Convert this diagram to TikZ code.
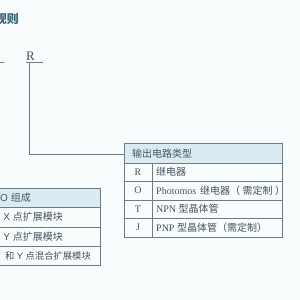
\documentclass[tikz,border=0pt]{standalone}
\usepackage{fontspec}
\setmainfont{Liberation Serif}
\newfontfamily\cjk{Noto Sans CJK SC}
\newfontfamily\sanslat{Liberation Sans}
\definecolor{txt}{HTML}{45545E}
\definecolor{ttl}{HTML}{3C6478}
\definecolor{ln}{HTML}{6E7C84}
\definecolor{hdr}{HTML}{DCEBF2}
\definecolor{bg}{HTML}{F8FCFD}
\tikzset{
  cell/.style={draw=ln, line width=0.8pt},
  hcell/.style={cell, fill=hdr},
  lbl/.style={inner sep=0pt, text=txt, font=\fontsize{10}{11}\selectfont},
  conn/.style={draw=ln, line width=1pt}
}
\begin{document}
\begin{tikzpicture}[x=1pt,y=-1pt]
\useasboundingbox[fill=bg] (0,0) rectangle (300,300);
% title
\node[anchor=east, inner sep=0pt, text=ttl, font=\fontsize{12}{13}\selectfont\cjk\bfseries] (title) at (19,19.5) {规则};
% code letters
\draw[conn] (-5,62.5) -- (4,62.5);
\node[anchor=base west, inner sep=0pt, text=txt, font=\fontsize{13}{14}\selectfont] (R) at (26,60) {R};
\draw[conn] (26,62.5) -- (43,62.5);
\coordinate (Rstem) at (29,62.5);
% right table
\draw[hcell] (124,143) rectangle (282,163);
\node[lbl, anchor=west, font=\fontsize{10}{11}\selectfont\cjk] (h1) at (132,154) {输出电路类型};
\draw[cell] (124,163) rectangle (282,237);
\foreach \y in {181,200,218} \draw[cell] (124,\y) -- (282,\y);
\draw[cell] (152,163) -- (152,237);
\coordinate (hdrwest) at (124,154);
\node[lbl] (r1) at (138,172) {R};
\node[lbl] (r2) at (138,190.5) {O};
\node[lbl] (r3) at (138,209) {T};
\node[lbl] (r4) at (138,227.5) {J};
\node[lbl, anchor=west] (d1) at (156,172) {\cjk 继电器};
\node[lbl, anchor=west] (d2) at (156,190.5) {Photomos\hspace{1.5pt} {\cjk 继电器（\hspace{2.5pt}需定制\hspace{2.5pt}）}};
\node[lbl, anchor=west] (d3) at (156,209) {NPN {\cjk 型晶体管}};
\node[lbl, anchor=west] (d4) at (156,227.5) {PNP {\cjk 型晶体管（需定制）}};
\draw[conn] (Rstem) |- (hdrwest);
% left table
\draw[hcell] (-5,188) rectangle (100,207);
\draw[cell] (-5,207) rectangle (100,265);
\foreach \y in {227,246} \draw[cell] (-5,\y) -- (100,\y);
\node[lbl, anchor=east, font=\fontsize{10}{11}\selectfont\sanslat] (l1) at (31,197.5) {O {\cjk 组成}};
\node[lbl, anchor=east, font=\fontsize{10}{11}\selectfont\sanslat] (l2) at (63,217) {X {\cjk 点扩展模块}};
\node[lbl, anchor=east, font=\fontsize{10}{11}\selectfont\sanslat] (l3) at (63,236.5) {Y {\cjk 点扩展模块}};
\node[lbl, anchor=east, font=\fontsize{9.3}{10}\selectfont\sanslat] (l4) at (91,255.5) {{\cjk 和} Y {\cjk 点混合扩展模块}};
\end{tikzpicture}
\end{document}
